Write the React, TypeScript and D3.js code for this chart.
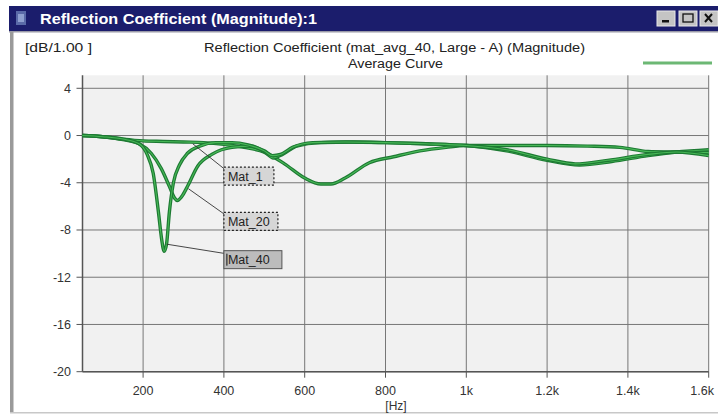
import React from "react";
import * as d3 from "d3";

// ---- data ----
const mat40Freq = [50, 100, 150, 190, 210, 225, 238, 246, 252, 258, 265, 275, 290, 310, 340, 380, 420, 460, 500, 520, 540, 570, 620, 700, 800, 900, 1000, 1100, 1200, 1270, 1350, 1450, 1520, 1600];
const mat40Db = [0, -0.1, -0.3, -0.7, -1.6, -3.2, -6.5, -8.8, -9.8, -9.2, -6.5, -4.0, -2.5, -1.5, -0.9, -0.6, -0.6, -0.8, -1.3, -1.7, -1.6, -1.0, -0.6, -0.55, -0.6, -0.7, -0.85, -1.2, -2.0, -2.4, -2.1, -1.6, -1.4, -1.7];

const mat20Freq = [50, 100, 150, 190, 220, 245, 265, 278, 285, 295, 310, 335, 370, 420, 470, 505, 522, 545, 580, 640, 720, 800, 900, 1000, 1100, 1200, 1280, 1360, 1450, 1520, 1600];
const mat20Db = [0, -0.1, -0.35, -0.7, -1.5, -2.8, -4.3, -5.3, -5.5, -5.2, -4.3, -2.6, -1.6, -1.0, -0.9, -1.5, -1.9, -1.6, -0.9, -0.6, -0.55, -0.6, -0.7, -0.85, -1.3, -2.1, -2.5, -2.2, -1.7, -1.4, -1.2];

const mat1Freq = [50, 100, 150, 200, 250, 300, 350, 400, 450, 500, 550, 600, 640, 665, 700, 760, 820, 885, 950, 1000, 1100, 1200, 1300, 1380, 1450, 1520, 1600];
const mat1Db = [0, -0.1, -0.3, -0.45, -0.5, -0.55, -0.6, -0.75, -1.0, -1.4, -2.4, -3.6, -4.1, -4.1, -3.6, -2.3, -1.8, -1.3, -1.0, -0.85, -0.85, -0.85, -0.9, -1.0, -1.35, -1.4, -1.45];

const yTicks = [4, 0, -4, -8, -12, -16, -20];
const xTicks = [200, 400, 600, 800, 1000, 1200, 1400, 1600];
const xTickLabels = ["200", "400", "600", "800", "1k", "1.2k", "1.4k", "1.6k"];

const labelNames = ["Mat_1", "Mat_20", "Mat_40"];
const labelAnchorFreq = [323, 312, 258];
const labelAnchorDb = [-0.7, -4.5, -9.2];
const labelBoxFreq = [400, 400, 400];
const labelBoxDb = [-2.68, -6.5, -9.75];

const windowTitle = "Reflection Coefficient (Magnitude):1";
const chartTitle = "Reflection Coefficient (mat_avg_40, Large - A) (Magnitude)";
const legendLabel = "Average Curve";
const yUnit = "[dB/1.00 ]";
const xUnit = "[Hz]";

const W = 718;
const H = 415;
const FONT = "'Liberation Sans', Arial, sans-serif";

export default function App() {
  const x = d3.scaleLinear().domain([50, 1600]).range([82.5, 708.7]);
  const y = d3.scaleLinear().domain([-20, 5.1]).range([371.7, 75.3]);
  const [x0, x1] = x.range();
  const [yb, yt] = y.range();

  const line = d3
    .line<[number, number]>()
    .x((d) => x(d[0]))
    .y((d) => y(d[1]))
    .curve(d3.curveMonotoneX);

  const series = [
    { f: mat1Freq, v: mat1Db },
    { f: mat20Freq, v: mat20Db },
    { f: mat40Freq, v: mat40Db },
  ];

  return (
    <div style={{ position: "fixed", left: 0, top: 0, width: W, height: H, background: "#fff" }}>
      <svg width={W} height={H} style={{ display: "block" }} fontFamily={FONT}>
        <rect x={0} y={0} width={W} height={H} fill="#ffffff" />
        {/* window frame */}
        <rect x={9} y={6} width={W - 9} height={25} fill="#1b1d6c" />
        <rect x={9} y={31} width={W - 9} height={1.5} fill="#9a9aa8" />
        <rect x={10} y={32} width={3.5} height={381} fill="#9a9a9a" />
        <rect x={10} y={412} width={W - 10} height={1.5} fill="#c8c8c8" />
        {/* icon */}
        <rect x={16} y={11} width={10} height={14} fill="#5a6aa8" />
        <rect x={18} y={14} width={6} height={8} fill="#8fa0d0" />
        <text x={40} y={24} fill="#ffffff" fontWeight="bold" fontSize={15} textLength={277} lengthAdjust="spacingAndGlyphs">
          {windowTitle}
        </text>
        {/* title buttons */}
        {[657, 679, 700].map((bx, i) => (
          <g key={i}>
            <rect x={bx} y={11} width={18} height={15} fill="#c4c4c4" stroke="#e8e8e8" strokeWidth={1} />
            {i === 0 && <rect x={bx + 5} y={20} width={7} height={2.5} fill="#111" />}
            {i === 1 && <rect x={bx + 4} y={14} width={10} height={8} fill="none" stroke="#111" strokeWidth={1.3} />}
            {i === 2 && (
              <path d={`M${bx + 5},${14} L${bx + 12},${22} M${bx + 12},${14} L${bx + 5},${22}`} stroke="#111" strokeWidth={2} />
            )}
          </g>
        ))}

        {/* header texts */}
        <text x={25} y={52} fontSize={12} fill="#222" textLength={67} lengthAdjust="spacingAndGlyphs">{yUnit}</text>
        <text x={204} y={52} fontSize={12} fill="#222" textLength={381} lengthAdjust="spacingAndGlyphs">{chartTitle}</text>
        <text x={348} y={68} fontSize={12} fill="#222" textLength={95} lengthAdjust="spacingAndGlyphs">{legendLabel}</text>
        <line x1={643} x2={712} y1={63} y2={63} stroke="#6cb874" strokeWidth={3} />

        {/* plot bg */}
        <rect x={x0} y={yt} width={x1 - x0} height={yb - yt} fill="#f1f1f1" />
        {/* grid */}
        {yTicks.map((t) => (
          <line key={"gy" + t} x1={x0} x2={x1} y1={y(t)} y2={y(t)} stroke="#777" strokeWidth={1} />
        ))}
        {xTicks.map((t) => (
          <line key={"gx" + t} x1={x(t)} x2={x(t)} y1={yt} y2={yb} stroke="#777" strokeWidth={1} />
        ))}
        {/* axes */}
        <line x1={x0} x2={x0} y1={yt} y2={yb} stroke="#555" strokeWidth={1.5} />
        <line x1={x0} x2={x1} y1={yb} y2={yb} stroke="#555" strokeWidth={1.5} />
        {yTicks.map((t) => (
          <g key={"ty" + t}>
            <line x1={x0 - 6} x2={x0} y1={y(t)} y2={y(t)} stroke="#555" strokeWidth={1} />
            <text x={71} y={y(t)} dy="0.35em" textAnchor="end" fontSize={12.5} fill="#333">
              {t}
            </text>
          </g>
        ))}
        {xTicks.map((t, i) => {
          const last = i === xTicks.length - 1;
          return (
            <g key={"tx" + t}>
              <line x1={x(t)} x2={x(t)} y1={yb} y2={yb + 6} stroke="#555" strokeWidth={1} />
              <text
                x={last ? W - 4 : x(t)}
                y={395}
                textAnchor={last ? "end" : "middle"}
                fontSize={12.5}
                fill="#333"
              >
                {xTickLabels[i]}
              </text>
            </g>
          );
        })}
        <text x={396} y={410} textAnchor="middle" fontSize={12} fill="#333">{xUnit}</text>

        {/* curves */}
        {series.map((s, i) => {
          const pts = s.f.map((f, j) => [f, s.v[j]] as [number, number]);
          const d = line(pts) || "";
          return (
            <g key={"s" + i}>
              <path d={d} fill="none" stroke="#1d7a33" strokeWidth={3.4} strokeLinejoin="round" />
              <path d={d} fill="none" stroke="#48b857" strokeWidth={1.1} strokeLinejoin="round" />
            </g>
          );
        })}

        {/* labels */}
        {labelNames.map((name, i) => {
          const bx = x(labelBoxFreq[i]);
          const by = y(labelBoxDb[i]);
          const selected = i === 2;
          const bw = selected ? 58 : name.length > 5 ? 54 : 50;
          return (
            <g key={name}>
              <line
                x1={x(labelAnchorFreq[i])}
                y1={y(labelAnchorDb[i])}
                x2={bx + 2}
                y2={by + 3}
                stroke="#333"
                strokeWidth={0.9}
              />
              <rect
                x={bx}
                y={by}
                width={bw}
                height={18}
                fill={selected ? "#bcbcbc" : "#d6d6d6"}
                stroke={selected ? "#555" : "#222"}
                strokeWidth={selected ? 1 : 1.2}
                strokeDasharray={selected ? undefined : "2,2"}
              />
              {selected && <line x1={bx + 3} x2={bx + 3} y1={by + 3} y2={by + 15} stroke="#111" strokeWidth={1} />}
              <text x={bx + 4} y={by + 13.5} fontSize={12.5} fill="#222">
                {name}
              </text>
            </g>
          );
        })}
      </svg>
    </div>
  );
}
